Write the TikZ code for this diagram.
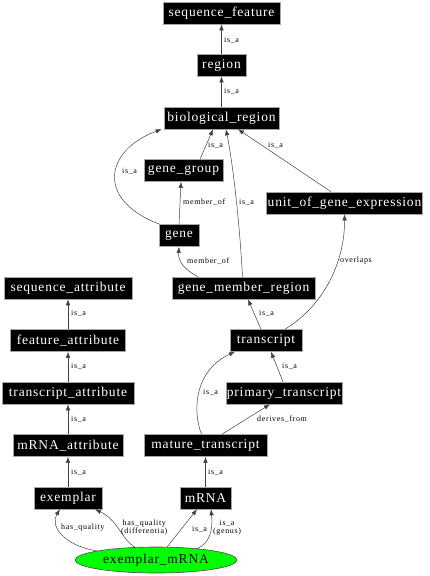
\documentclass[tikz,border=0pt]{standalone}
\usepackage{fontspec}
\setmainfont{Liberation Serif}
\newfontfamily\nodefont[LetterSpace=6]{Liberation Serif}
\newfontfamily\lblfont[LetterSpace=8]{Liberation Serif}
\usetikzlibrary{arrows.meta,shapes.geometric}
\tikzset{
  cls/.style={fill=black,draw=gray!70,text=white,font=\nodefont\fontsize{13.5}{15}\selectfont,inner xsep=1pt,inner ysep=0pt,minimum height=22pt,line width=0.6pt},
  inst/.style={ellipse,fill=green,draw=black!70,text=black,font=\nodefont\fontsize{13.5}{15}\selectfont,minimum width=162pt,minimum height=26pt,inner sep=0pt,line width=0.6pt},
  rel/.style={draw=black!75,line width=0.5pt,-{Latex[length=6pt,width=4.5pt]}},
  lbl/.style={font=\lblfont\fontsize{8}{7.5}\selectfont,inner sep=0pt,text=black,align=center,anchor=west}
}
\begin{document}
\begin{tikzpicture}[x=1pt,y=-1pt]
\useasboundingbox (0,0) rectangle (429,576);
\node[cls,minimum width=117pt] (sf) at (221.5,13) {sequence\_feature};
\node[cls,minimum width=49pt] (reg) at (221.5,65) {region};
\node[cls,minimum width=115pt] (bio) at (221.5,118) {biological\_region};
\node[cls,minimum width=79pt] (gg) at (183.5,170.5) {gene\_group};
\node[cls,minimum width=155pt] (uge) at (344.5,203) {unit\_of\_gene\_expression};
\node[cls,minimum width=40pt] (gene) at (179,235.5) {gene};
\node[cls,minimum width=128pt] (sa) at (68,288) {sequence\_attribute};
\node[cls,minimum width=143pt] (gmr) at (243.5,288) {gene\_member\_region};
\node[cls,minimum width=115pt] (fa) at (68,340.5) {feature\_attribute};
\node[cls,minimum width=72pt] (tr) at (266,340.5) {transcript};
\node[cls,minimum width=132pt] (ta) at (68,393) {transcript\_attribute};
\node[cls,minimum width=116pt] (pt) at (284,393) {primary\_transcript};
\node[cls,minimum width=110pt] (ma) at (68,445.5) {mRNA\_attribute};
\node[cls,minimum width=123pt] (mt) at (205.5,445.5) {mature\_transcript};
\node[cls,minimum width=68pt] (ex) at (68,498) {exemplar};
\node[cls,minimum width=51pt] (mrna) at (205.5,498) {mRNA};
\node[inst] (em) at (156,560) {exemplar\_mRNA};

\draw[rel] (reg) -- (sf);
\node[lbl] (l1) at (224,40) {is\_a};
\draw[rel] (bio) -- (reg);
\node[lbl] (l2) at (224,91) {is\_a};
\draw[rel] ([xshift=16.5pt]gg.north) -- ([xshift=-8.5pt]bio.south);
\node[lbl] (l3) at (208,145) {is\_a};
\draw[rel] ([xshift=1pt]gene.north west) .. controls (95,200) and (105,150) .. ([xshift=-2pt]bio.south west);
\node[lbl] (l4) at (122,171) {is\_a};
\draw[rel] ([xshift=-1pt]gmr.north) .. controls (240,230) and (234,170) .. ([xshift=4.5pt]bio.south);
\node[lbl] (l5) at (239,202) {is\_a};
\draw[rel] ([xshift=-13.5pt]uge.north) -- ([xshift=16.5pt]bio.south);
\node[lbl] (l6) at (268,145) {is\_a};
\draw[rel] (gene.north) -- ([xshift=-2.5pt]gg.south);
\node[lbl] (l7) at (183,202) {member\_of};
\draw[rel] ([xshift=-45.5pt]gmr.north) .. controls (185,270) and (178,262) .. (gene.south);
\node[lbl] (l8) at (187,261) {member\_of};
\draw[rel] ([xshift=19pt]tr.north) .. controls (325,305) and (345,260) .. (uge.south);
\node[lbl] (l9) at (340,261) {overlaps};
\draw[rel] ([xshift=-5pt]tr.north) -- ([xshift=4.5pt]gmr.south);
\node[lbl] (l10) at (259,313) {is\_a};
\draw[rel] ([xshift=-1pt]pt.north) -- ([xshift=5pt]tr.south);
\node[lbl] (l11) at (282,366) {is\_a};
\draw[rel] ([xshift=-4pt]mt.north) .. controls (192,410) and (195,370) .. ([xshift=-31pt]tr.south);
\node[lbl] (l12) at (203,392) {is\_a};
\draw[rel] ([xshift=16.5pt]mt.north) -- ([xshift=-14pt]pt.south);
\node[lbl] (l13) at (257,419) {derives\_from};
\draw[rel] (fa) -- (sa);
\node[lbl] (l14) at (71,313) {is\_a};
\draw[rel] (ta) -- (fa);
\node[lbl] (l15) at (71,366) {is\_a};
\draw[rel] (ma) -- (ta);
\node[lbl] (l16) at (71,419) {is\_a};
\draw[rel] (ex) -- (ma);
\node[lbl] (l17) at (71,472) {is\_a};
\draw[rel] (mrna) -- (mt);
\node[lbl] (l18) at (208,472) {is\_a};
\draw[rel] ([xshift=-59pt,yshift=9pt]em.center) .. controls (62,545) and (50,525) .. ([xshift=-8pt]ex.south);
\node[lbl] (l19) at (61,528) {has\_quality};
\draw[rel] ([xshift=-21pt,yshift=12.6pt]em.center) .. controls (122,540) and (118,520) .. ([xshift=27pt]ex.south);
\node[lbl] (l20) at (121,527.5) {has\_quality\\(differentia)};
\draw[rel] ([xshift=11pt,yshift=12.9pt]em.center) -- ([xshift=-8.5pt]mrna.south);
\node[lbl] (l21) at (192,529) {is\_a};
\draw[rel] ([xshift=41pt,yshift=11.2pt]em.center) .. controls (210,543) and (213,530) .. ([xshift=5.5pt]mrna.south);
\node[lbl] (l22) at (213,527.5) {is\_a\\(genus)};
\end{tikzpicture}
\end{document}
